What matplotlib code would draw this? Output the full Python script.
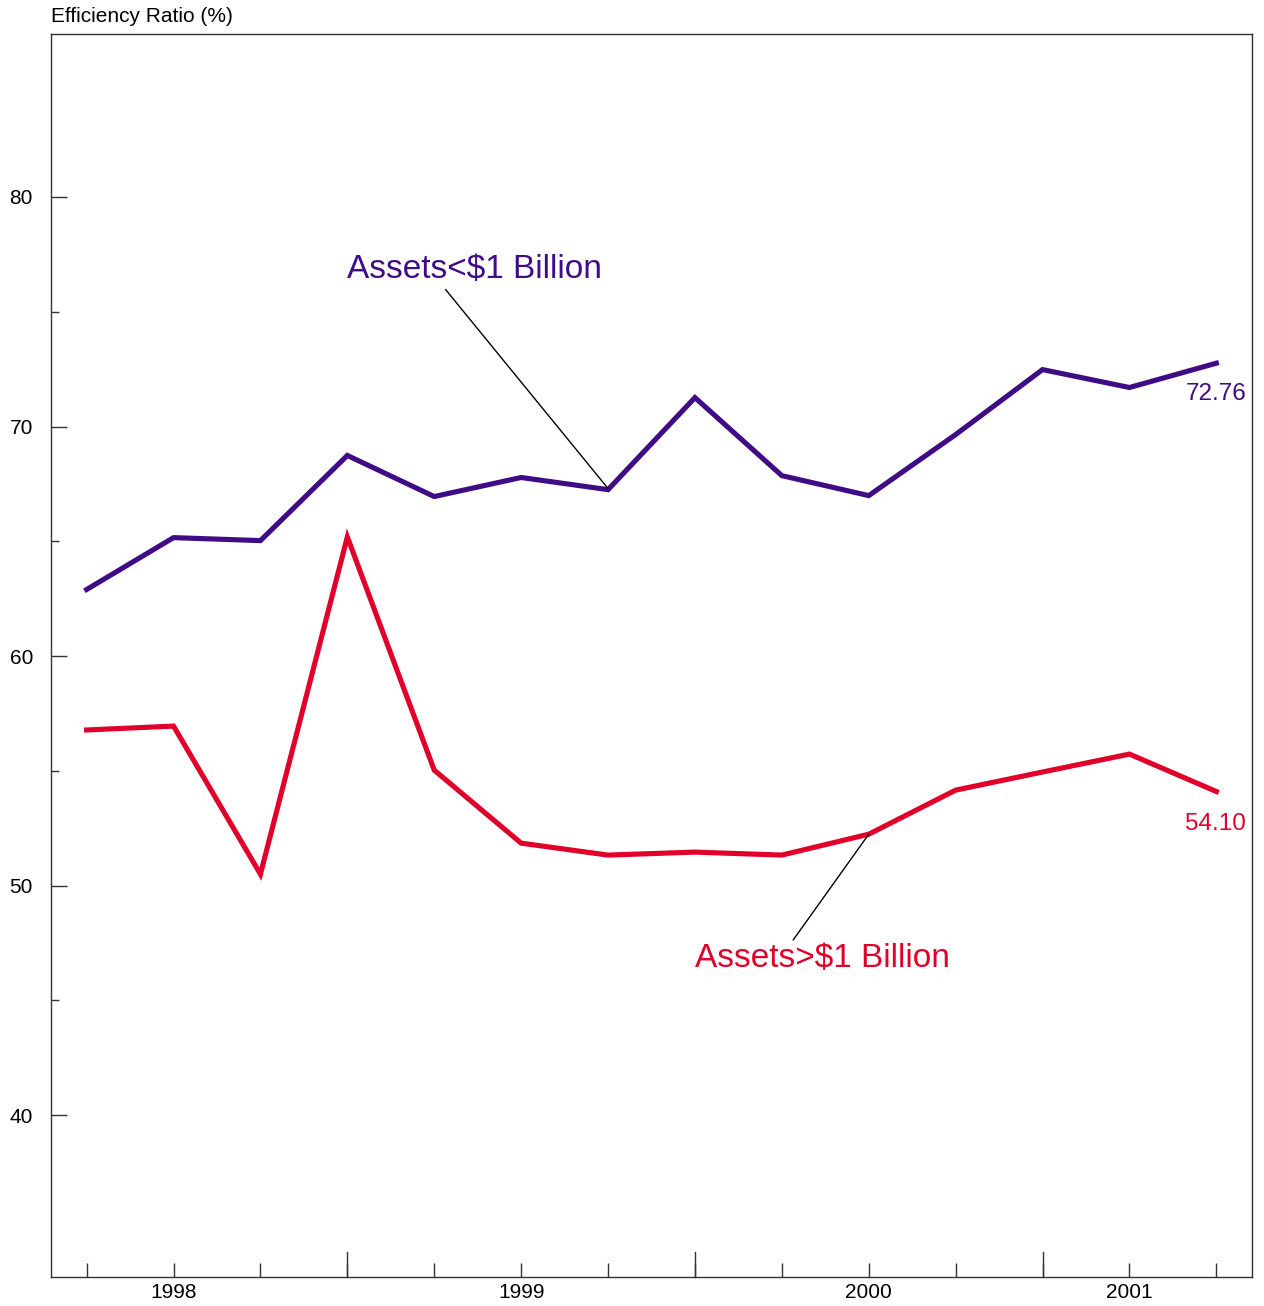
import matplotlib
matplotlib.use("Agg")
import matplotlib.pyplot as plt
from matplotlib.ticker import FixedLocator

plt.rcParams['font.family'] = ['Liberation Sans', 'DejaVu Sans']

# quarterly data, 14 quarters
quarters = list(range(14))
small_banks = [62.90, 65.16, 65.03, 68.74, 66.95, 67.78, 67.25, 71.26,
               67.86, 66.99, 69.65, 72.48, 71.70, 72.76]
large_banks = [56.78, 56.95, 50.50, 65.19, 55.03, 51.85, 51.33, 51.46,
               51.33, 52.24, 54.16, 54.95, 55.73, 54.10]
year_pos = [1, 5, 9, 12]
year_labels = ['1998', '1999', '2000', '2001']
long_ticks = [3, 7, 11]

purple = '#3f0c85'
red = '#e0002a'

fig = plt.figure(figsize=(12.64, 13.06), dpi=100)
ax = fig.add_axes([51/1264, 1 - 1277/1306, (1252-51)/1264, (1277-34)/1306])

ax.plot(quarters, small_banks, color=purple, lw=3.7, solid_joinstyle='miter')
ax.plot(quarters, large_banks, color=red, lw=3.7, solid_joinstyle='miter')

ax.set_xlim(-0.41, 13.41)
ax.set_ylim(32.95, 87.1)

# y axis ticks
ax.set_yticks([40, 50, 60, 70, 80])
ax.yaxis.set_minor_locator(FixedLocator([45, 55, 65, 75]))
ax.tick_params(axis='y', which='major', direction='in', length=11.5, width=1,
               labelsize=15, pad=13, color='#333333')
ax.tick_params(axis='y', which='minor', direction='in', length=6, width=1, color='#333333')

# x axis: short ticks each quarter, long ticks mid-year, year labels
ax.set_xticks(year_pos)
ax.set_xticklabels(year_labels)
ax.xaxis.set_minor_locator(FixedLocator([q for q in quarters if q not in year_pos]))
ax.tick_params(axis='x', which='major', direction='in', length=10, width=1,
               labelsize=15, pad=4, color='#333333')
ax.tick_params(axis='x', which='minor', direction='in', length=10, width=1, color='#333333')
for q in long_ticks:
    ax.plot([q, q], [32.95, 32.95 + 1.1], color='#333333', lw=1, clip_on=False)

for s in ax.spines.values():
    s.set_color('#333333')
    s.set_linewidth(1)

# callouts
ax.text(3.0, 76.84, 'Assets<$1 Billion', color=purple, fontsize=24, va='center', ha='left')
ax.annotate('', xy=(6.0, 67.3), xytext=(4.13, 75.97),
            arrowprops=dict(arrowstyle='-', lw=1, color='black', shrinkA=0, shrinkB=0))
ax.text(7.0, 46.84, 'Assets>$1 Billion', color=red, fontsize=24, va='center', ha='left')
ax.annotate('', xy=(9.0, 52.24), xytext=(8.13, 47.63),
            arrowprops=dict(arrowstyle='-', lw=1, color='black', shrinkA=0, shrinkB=0))

ax.text(13.345, 71.42, '72.76', color=purple, fontsize=17.5, va='center', ha='right')
ax.text(13.345, 52.68, '54.10', color=red, fontsize=17.5, va='center', ha='right')

fig.text(51/1264, 1 - 17/1306, 'Efficiency Ratio (%)', fontsize=15, va='center', ha='left')

fig.savefig('out.png', dpi=100)
